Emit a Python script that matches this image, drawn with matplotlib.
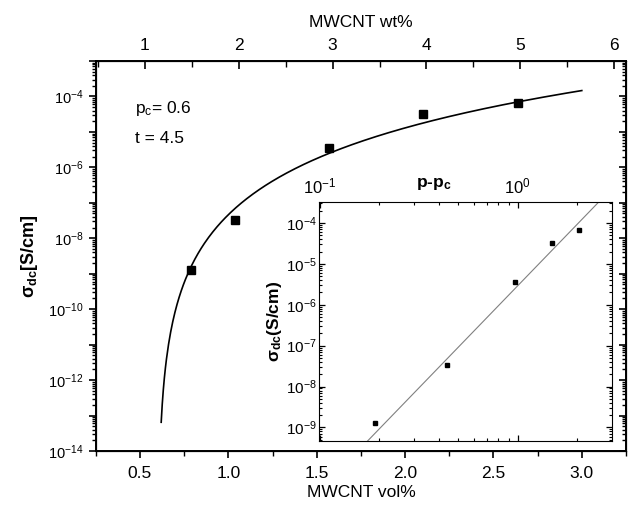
import numpy as np
import matplotlib
matplotlib.use("Agg")
import matplotlib.pyplot as plt
from matplotlib.ticker import FixedLocator, FuncFormatter, MultipleLocator, NullFormatter

plt.rcParams["font.family"] = ["Liberation Sans", "DejaVu Sans"]
plt.rcParams["mathtext.fontset"] = "custom"
plt.rcParams["mathtext.rm"] = "Liberation Sans"
plt.rcParams["mathtext.it"] = "Liberation Sans:italic"
plt.rcParams["mathtext.bf"] = "Liberation Sans:bold"

# measured conductivity vs MWCNT content
vol_pct = [0.79, 1.04, 1.57, 2.10, 2.64]
sigma_dc = [1.3e-9, 3.3e-8, 3.5e-6, 3.2e-5, 6.7e-5]

# percolation fit shown in the main panel
pc = 0.6
t_exp = 4.5
sigma0 = 10 ** -5.545
p_fit_range = [0.62, 3.0]

# log-log fit shown in the inset
inset_slope = 5.0
inset_sigma0 = 10 ** -5.54
inset_fit_range = [0.15, 3.0]


def log_label(every):
    def fmt(v, pos):
        e = int(np.round(np.log10(v)))
        if e % every != 0:
            return ""
        return r"$\mathdefault{10^{%d}}$" % e
    return fmt


def log_ticks(axis, every, emin, emax):
    axis.set_major_locator(FixedLocator([10.0 ** e for e in range(emin, emax + 1)]))
    minors = [m * 10.0 ** e for e in range(emin - 1, emax + 1) for m in range(2, 10)]
    axis.set_minor_locator(FixedLocator(minors))
    axis.set_major_formatter(FuncFormatter(log_label(every)))
    axis.set_minor_formatter(NullFormatter())


fig = plt.figure(figsize=(6.37, 5.07), dpi=100)
ax = fig.add_axes([0.1504, 0.1105, 0.8323, 0.7692])
axr = ax.twinx()
axt = ax.twiny()

# main panel
p = np.linspace(p_fit_range[0], p_fit_range[1], 400)
ax.plot(p, sigma0 * (p - pc) ** t_exp, color="black", lw=1.2)
ax.plot(vol_pct, sigma_dc, "s", color="black", ms=5.5)

ax.set_yscale("log")
ax.set_xlim(0.25, 3.25)
ax.set_ylim(1e-14, 1e-3)
ax.xaxis.set_major_locator(MultipleLocator(0.5))
ax.xaxis.set_minor_locator(MultipleLocator(0.25))
log_ticks(ax.yaxis, 2, -14, -3)
ax.tick_params(axis="x", which="major", direction="out", length=5, width=1.2, labelsize=12.5, pad=6)
ax.tick_params(axis="x", which="minor", direction="out", length=3.5, width=1.0)
ax.tick_params(axis="y", which="major", direction="out", length=5, width=1.2, labelsize=10.5, pad=4)
ax.tick_params(axis="y", which="minor", direction="out", length=3, width=1.0)
for s in ax.spines.values():
    s.set_linewidth(1.4)
ax.set_xlabel("MWCNT vol%", fontsize=12.5, labelpad=3)
ax.set_ylabel(r"σ$_{\mathbf{dc}}$[S/cm]", fontsize=13, fontweight="bold", labelpad=6)

ax.text(0.47, 3.5e-5, r"p$_\mathregular{c}$= 0.6", fontsize=12.5)
ax.text(0.47, 5.0e-6, "t = 4.5", fontsize=12.5)

# right side ticks (inward)
axr.set_yscale("log")
axr.set_ylim(1e-14, 1e-3)
log_ticks(axr.yaxis, 2, -14, -3)
axr.yaxis.set_major_formatter(NullFormatter())
axr.tick_params(axis="y", which="major", direction="in", length=5, width=1.2)
axr.tick_params(axis="y", which="minor", direction="in", length=3, width=1.0)

# top axis: wt%
axt.set_xlim(0.479, 6.124)
axt.xaxis.set_major_locator(MultipleLocator(1))
axt.xaxis.set_minor_locator(MultipleLocator(0.5))
axt.tick_params(axis="x", which="major", direction="in", length=6, width=1.2, labelsize=12.5, pad=6)
axt.tick_params(axis="x", which="minor", direction="in", length=4, width=1.0)
axt.set_xlabel("MWCNT wt%", fontsize=12.5, labelpad=8)

# inset
axi = fig.add_axes([0.5013, 0.1296, 0.459, 0.4726])
pp = np.array(inset_fit_range)
axi.plot(pp, inset_sigma0 * pp ** inset_slope, color="#808080", lw=0.8)
axi.plot(np.array(vol_pct) - pc, sigma_dc, "s", color="black", ms=3.2)
axi.set_xscale("log")
axi.set_yscale("log")
axi.set_xlim(0.0996, 2.99)
axi.set_ylim(4.6e-10, 3.3e-4)
log_ticks(axi.xaxis, 1, -1, 0)
log_ticks(axi.yaxis, 1, -9, -4)
axi.tick_params(which="both", direction="in", top=True, right=True, bottom=True, left=True,
                labeltop=True, labelbottom=False, labelleft=True, labelright=False)
axi.tick_params(which="major", length=4, width=0.9)
axi.tick_params(which="minor", length=2.5, width=0.8)
axi.tick_params(axis="x", labelsize=12, pad=4)
axi.tick_params(axis="y", labelsize=11, pad=2)
for s in axi.spines.values():
    s.set_linewidth(0.8)
axi.text(0.39, 1.04, r"p-p$_{\mathbf{c}}$", transform=axi.transAxes, fontsize=12.5,
         fontweight="bold", ha="center", va="bottom")
axi.set_ylabel(r"σ$_{\mathbf{dc}}$(S/cm)", fontsize=12.5, fontweight="bold", labelpad=1)

fig.savefig("out.png", dpi=100)
